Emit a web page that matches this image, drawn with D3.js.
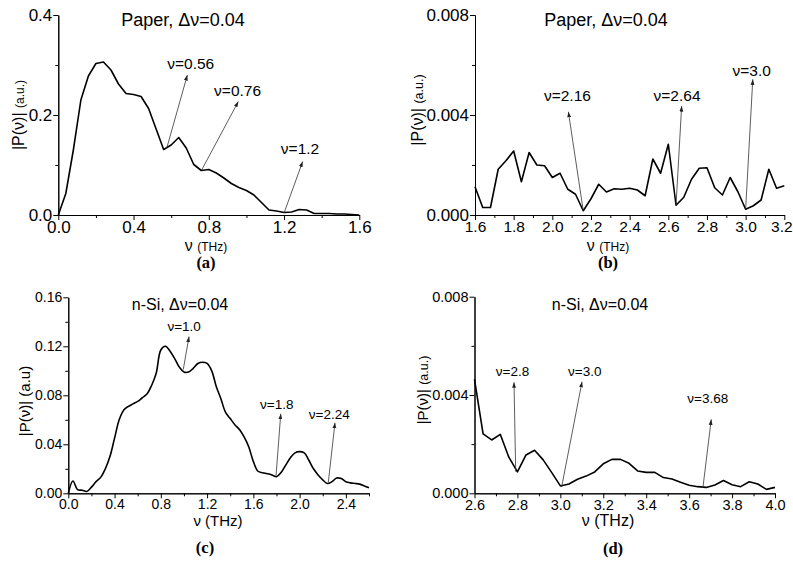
<!DOCTYPE html>
<html>
<head>
<meta charset="utf-8">
<script src="https://cdn.jsdelivr.net/npm/d3@7/dist/d3.min.js"></script>
<style>
body { margin: 0; background: #fff; }
svg text { font-family: "Liberation Sans", Arial, sans-serif; fill: #000; }
</style>
</head>
<body>
<svg id="chart" width="793" height="565"></svg>
<script>
// (a) paper, low band
const freqA = [0, 0.04, 0.08, 0.12, 0.16, 0.2, 0.24, 0.28, 0.32, 0.36, 0.4, 0.44, 0.48, 0.52, 0.56, 0.6, 0.64, 0.68, 0.72, 0.76, 0.8,
    0.84, 0.88, 0.92, 0.96, 1.0, 1.04, 1.08, 1.12, 1.16, 1.2, 1.24, 1.28, 1.32, 1.36, 1.4, 1.44, 1.48, 1.52, 1.56, 1.6];
const ampA = [0, 0.043, 0.13, 0.23, 0.278, 0.303, 0.306, 0.29, 0.262, 0.243, 0.241, 0.237, 0.213, 0.172, 0.131, 0.14, 0.155, 0.134, 0.101, 0.089, 0.091,
    0.084, 0.074, 0.063, 0.055, 0.049, 0.04, 0.025, 0.01, 0.008, 0.005, 0.006, 0.011, 0.01, 0.003, 0.003, 0.003, 0.002, 0.002, 0.001, 0];

// (b) paper, high band
const freqB = [1.6, 1.64, 1.68, 1.72, 1.76, 1.8, 1.84, 1.88, 1.92, 1.96, 2.0, 2.04, 2.08, 2.12, 2.16, 2.2, 2.24, 2.28, 2.32, 2.36, 2.4,
    2.44, 2.48, 2.52, 2.56, 2.6, 2.64, 2.68, 2.72, 2.76, 2.8, 2.84, 2.88, 2.92, 2.96, 3.0, 3.04, 3.08, 3.12, 3.16, 3.2];
const ampB = [0.00113, 0.0003, 0.0003, 0.00183, 0.00217, 0.00256, 0.00133, 0.0025, 0.002, 0.00197, 0.0015, 0.00167, 0.00103, 0.00083, 0.00017, 0.00065, 0.00123, 0.00092, 0.00105, 0.00103, 0.00107,
    0.001, 0.00077, 0.00224, 0.00167, 0.00283, 0.00039, 0.00071, 0.00143, 0.00187, 0.00189, 0.00109, 0.0008, 0.0015, 0.00093, 0.00023, 0.00037, 0.0006, 0.00183, 0.00107, 0.00117];

// (c) n-Si, low band
const freqC = [0, 0.04, 0.08, 0.12, 0.16, 0.2, 0.24, 0.28, 0.32, 0.36, 0.4, 0.44, 0.48, 0.52, 0.56, 0.6, 0.64, 0.68, 0.72, 0.76, 0.8,
    0.84, 0.88, 0.92, 0.96, 1.0, 1.04, 1.08, 1.12, 1.16, 1.2, 1.24, 1.28, 1.32, 1.36, 1.4, 1.44, 1.48, 1.52, 1.56, 1.6,
    1.64, 1.68, 1.72, 1.76, 1.8, 1.84, 1.88, 1.92, 1.96, 2.0, 2.04, 2.08, 2.12, 2.16, 2.2, 2.24, 2.28, 2.32, 2.36, 2.4,
    2.44, 2.48, 2.52, 2.56, 2.6];
const ampC = [0, 0.010, 0.003, 0.0025, 0.0015, 0.005, 0.0095, 0.013, 0.020, 0.030, 0.045, 0.060, 0.068, 0.071, 0.073, 0.075, 0.078, 0.081, 0.088, 0.098, 0.117,
    0.120, 0.116, 0.110, 0.103, 0.099, 0.099, 0.102, 0.106, 0.107, 0.106, 0.100, 0.087, 0.077, 0.066, 0.061, 0.056, 0.052, 0.046, 0.038, 0.026,
    0.018, 0.0168, 0.016, 0.015, 0.0135, 0.017, 0.023, 0.029, 0.033, 0.034, 0.033, 0.027, 0.020, 0.015, 0.011, 0.008, 0.0095, 0.0125, 0.012, 0.0095,
    0.0085, 0.008, 0.0075, 0.006, 0.0045];

// (d) n-Si, high band
const freqD = [2.6, 2.64, 2.68, 2.72, 2.76, 2.8, 2.84, 2.88, 2.92, 2.96, 3.0, 3.04, 3.08, 3.12, 3.16, 3.2, 3.24, 3.28, 3.32, 3.36, 3.4,
    3.44, 3.48, 3.52, 3.56, 3.6, 3.64, 3.68, 3.72, 3.76, 3.8, 3.84, 3.88, 3.92, 3.96, 4.0];
const ampD = [0.00464, 0.00242, 0.00217, 0.0024, 0.00147, 0.00087, 0.00156, 0.00175, 0.00136, 0.00084, 0.0003, 0.00038, 0.00057, 0.0007, 0.00087, 0.0012, 0.00138, 0.00138, 0.00122, 0.00091, 0.00085,
    0.00085, 0.00064, 0.00058, 0.00045, 0.00033, 0.00027, 0.00024, 0.00034, 0.00052, 0.00035, 0.00027, 0.00047, 0.00038, 0.00016, 0.00024];

// tick values
const xMajorA = [0, 0.4, 0.8, 1.2, 1.6], xMinorA = [0.2, 0.6, 1.0, 1.4];
const yMajorA = [0, 0.2, 0.4], yMinorA = [0.1, 0.3];
const xMajorB = [1.6, 1.8, 2.0, 2.2, 2.4, 2.6, 2.8, 3.0, 3.2], xMinorB = [1.7, 1.9, 2.1, 2.3, 2.5, 2.7, 2.9, 3.1];
const yMajorB = [0, 0.004, 0.008], yMinorB = [0.002, 0.006];
const xMajorC = [0, 0.4, 0.8, 1.2, 1.6, 2.0, 2.4], xMinorC = [0.2, 0.6, 1.0, 1.4, 1.8, 2.2, 2.6];
const yMajorC = [0, 0.04, 0.08, 0.12, 0.16], yMinorC = [0.02, 0.06, 0.10, 0.14];
const xMajorD = [2.6, 2.8, 3.0, 3.2, 3.4, 3.6, 3.8, 4.0], xMinorD = [2.7, 2.9, 3.1, 3.3, 3.5, 3.7, 3.9];
const yMajorD = [0, 0.004, 0.008], yMinorD = [0.002, 0.006];

// marked frequencies: label, arrow start (on curve), arrow tip, label centre
const marksA = [
    { text: 'ν=0.56', from: [0.576, 0.133], to: [0.686, 0.28], at: [0.704, 0.303] },
    { text: 'ν=0.76', from: [0.762, 0.09], to: [0.957, 0.227], at: [0.953, 0.249] },
    { text: 'ν=1.2', from: [1.2, 0.004], to: [1.299, 0.107], at: [1.285, 0.133] }
];
const marksB = [
    { text: 'ν=2.16', from: [2.16, 0.00017], to: [2.083, 0.00413], at: [2.078, 0.0048] },
    { text: 'ν=2.64', from: [2.64, 0.00039], to: [2.669, 0.00436], at: [2.645, 0.0048] },
    { text: 'ν=3.0', from: [3.0, 0.00023], to: [3.037, 0.00543], at: [3.031, 0.0058] }
];
const marksC = [
    { text: 'ν=1.0', from: [0.994, 0.101], to: [1.044, 0.128], at: [1.002, 0.137] },
    { text: 'ν=1.8', from: [1.796, 0.014], to: [1.837, 0.065], at: [1.802, 0.073] },
    { text: 'ν=2.24', from: [2.248, 0.0087], to: [2.306, 0.0576], at: [2.256, 0.065] }
];
const marksD = [
    { text: 'ν=2.8', from: [2.792, 0.00088], to: [2.784, 0.00452], at: [2.777, 0.00502] },
    { text: 'ν=3.0', from: [3.006, 0.00026], to: [3.101, 0.00454], at: [3.114, 0.00502] },
    { text: 'ν=3.68', from: [3.664, 0.00022], to: [3.703, 0.00301], at: [3.687, 0.0039] }
];

const svg = d3.select('#chart');
svg.append('rect').attr('width', 793).attr('height', 565).attr('fill', '#fff');

svg.append('defs').append('marker')
    .attr('id', 'head')
    .attr('viewBox', '0 0 10 10')
    .attr('refX', 10).attr('refY', 5)
    .attr('markerWidth', 7).attr('markerHeight', 7)
    .attr('orient', 'auto')
    .append('path')
    .attr('d', 'M0,1.5L10,5L0,8.5Z')
    .attr('fill', '#222');

// write a text made of [string, size] parts
const putText = (g, x, y, parts, rotate = 0, weight = 'normal', family = null) => {
    const t = g.append('text')
        .attr('transform', `translate(${x},${y}) rotate(${rotate})`)
        .attr('text-anchor', 'middle')
        .style('font-weight', weight);
    if (family) t.style('font-family', family);
    parts.forEach(p => t.append('tspan').attr('font-size', p[1]).text(p[0]));
    return t;
};

const drawPanel = p => {
    const x = d3.scaleLinear().domain(p.xDom).range([p.left, p.right]);
    const y = d3.scaleLinear().domain(p.yDom).range([p.bottom, p.top]);
    const g = svg.append('g');

    // axes, minor ticks first
    g.append('g').attr('transform', `translate(0,${p.bottom})`)
        .call(d3.axisBottom(x).tickValues(p.xMinor).tickSize(3).tickSizeOuter(0).tickFormat(''));
    g.append('g').attr('transform', `translate(${p.left},0)`)
        .call(d3.axisLeft(y).tickValues(p.yMinor).tickSize(3).tickSizeOuter(0).tickFormat(''));
    const xAxis = g.append('g').attr('transform', `translate(0,${p.bottom})`)
        .call(d3.axisBottom(x).tickValues(p.xMajor).tickSize(5).tickSizeOuter(0).tickPadding(1).tickFormat(d3.format('.1f')))
        .attr('font-family', null).attr('font-size', p.xTickFs);
    // keep the last label inside the page edge
    if (p.lastShift) xAxis.selectAll('.tick:last-of-type text').attr('dx', p.lastShift);
    g.append('g').attr('transform', `translate(${p.left},0)`)
        .call(d3.axisLeft(y).tickValues(p.yMajor).tickSize(5).tickSizeOuter(0).tickPadding(1).tickFormat(d3.format(p.yFmt)))
        .attr('font-family', null).attr('font-size', p.yTickFs);
    g.selectAll('.domain, .tick line').attr('stroke', '#000').attr('stroke-width', 1);

    // spectrum
    const line = d3.line().x(d => x(d[0])).y(d => y(d[1])).curve(p.curve);
    g.append('path')
        .datum(d3.zip(p.xs, p.ys))
        .attr('d', line)
        .attr('fill', 'none')
        .attr('stroke', '#000')
        .attr('stroke-width', 1.6)
        .attr('stroke-linejoin', 'round');

    // marked frequencies
    p.marks.forEach(m => {
        g.append('line')
            .attr('x1', x(m.from[0])).attr('y1', y(m.from[1]))
            .attr('x2', x(m.to[0])).attr('y2', y(m.to[1]))
            .attr('stroke', '#333').attr('stroke-width', 0.8)
            .attr('marker-end', 'url(#head)');
        putText(g, x(m.at[0]), y(m.at[1]), [[m.text, p.markFs]]).attr('dy', '0.35em');
    });

    // titles and labels
    putText(g, p.title[0], p.title[1], p.titleParts);
    putText(g, p.xLab[0], p.xLab[1], p.xLabParts);
    putText(g, p.yLab[0], p.yLab[1], p.yLabParts, -90);
    putText(g, p.tag[0], p.tag[1], [[p.tagText, 16.5]], 0, 'bold', '"Liberation Serif", "DejaVu Serif", serif');
};

const panels = [
    { xs: freqA, ys: ampA, marks: marksA, curve: d3.curveLinear,
      left: 58.3, right: 359.3, top: 15, bottom: 215, xDom: [0, 1.6], yDom: [0, 0.4],
      xMajor: xMajorA, xMinor: xMinorA, yMajor: yMajorA, yMinor: yMinorA, yFmt: '.1f',
      xTickFs: 17, yTickFs: 17, markFs: 15.5,
      title: [183, 26], titleParts: [['Paper, Δν=0.04', 18]],
      xLab: [206, 251], xLabParts: [['ν ', 16], ['(THz)', 12]],
      yLab: [23.5, 115], yLabParts: [['|P(ν)| ', 16], ['(a.u.)', 12]],
      tag: [206, 268], tagText: '(a)' },
    { xs: freqB, ys: ampB, marks: marksB, curve: d3.curveLinear,
      left: 475, right: 784.3, top: 15, bottom: 215, xDom: [1.6, 3.2], yDom: [0, 0.008],
      xMajor: xMajorB, xMinor: xMinorB, yMajor: yMajorB, yMinor: yMinorB, yFmt: '.3f',
      xTickFs: 15.5, yTickFs: 17, markFs: 15.5, lastShift: -3,
      title: [606, 26], titleParts: [['Paper, Δν=0.04', 18]],
      xLab: [608, 251], xLabParts: [['ν ', 16], ['(THz)', 12]],
      yLab: [423, 110], yLabParts: [['|P(ν)| ', 16], ['(a.u.)', 12.5]],
      tag: [608, 268], tagText: '(b)' },
    { xs: freqC, ys: ampC, marks: marksC, curve: d3.curveCatmullRom.alpha(0.5),
      left: 68.3, right: 369, top: 297.3, bottom: 493.3, xDom: [0, 2.6], yDom: [0, 0.16],
      xMajor: xMajorC, xMinor: xMinorC, yMajor: yMajorC, yMinor: yMinorC, yFmt: '.2f',
      xTickFs: 14, yTickFs: 14, markFs: 13.5,
      title: [180, 310], titleParts: [['n-Si, Δν=0.04', 16]],
      xLab: [218, 526], xLabParts: [['ν (THz)', 15]],
      yLab: [30, 401], yLabParts: [['|P(ν)| (a.u)', 15]],
      tag: [205, 553], tagText: '(c)' },
    { xs: freqD, ys: ampD, marks: marksD, curve: d3.curveLinear,
      left: 474.5, right: 775, top: 296.7, bottom: 493.3, xDom: [2.6, 4.0], yDom: [0, 0.008],
      xMajor: xMajorD, xMinor: xMinorD, yMajor: yMajorD, yMinor: yMinorD, yFmt: '.3f',
      xTickFs: 14.5, yTickFs: 14.5, markFs: 13.5,
      title: [600, 310], titleParts: [['n-Si, Δν=0.04', 16]],
      xLab: [608, 526], xLabParts: [['ν (THz)', 16]],
      yLab: [428, 390], yLabParts: [['|P(ν)| ', 15], ['(a.u.)', 12.5]],
      tag: [613, 554], tagText: '(d)' }
];

panels.forEach(drawPanel);
</script>
</body>
</html>
